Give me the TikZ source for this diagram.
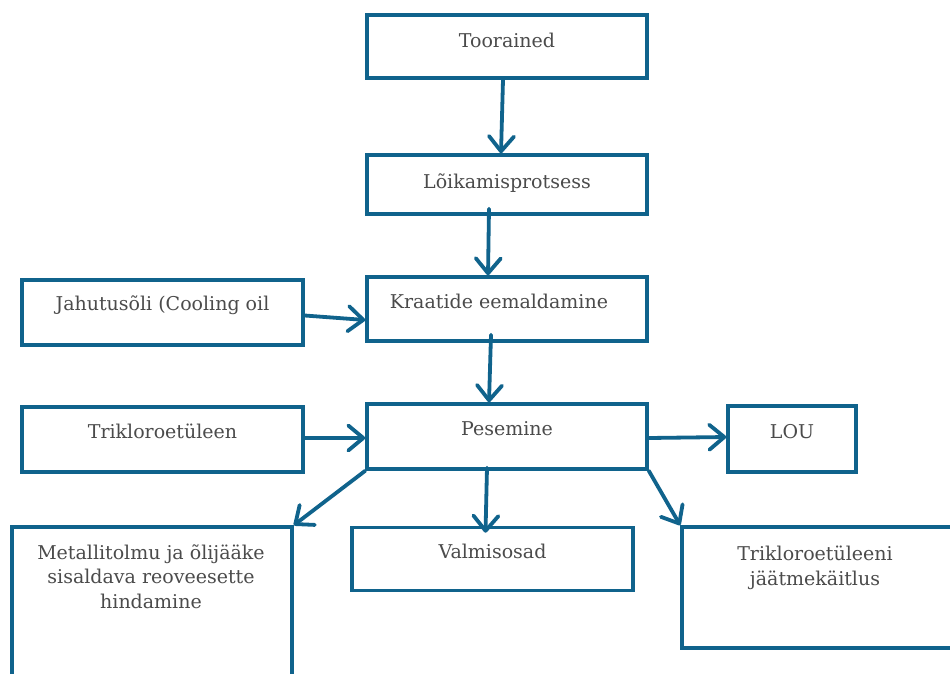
\documentclass[tikz,border=0pt]{standalone}
\usepackage{fontspec}
\setmainfont{DejaVu Serif}
\usetikzlibrary{arrows.meta}
\definecolor{flowblue}{RGB}{16,99,140}
\definecolor{flowgray}{RGB}{75,75,75}

\begin{document}
\begin{tikzpicture}[x=1pt, y=-1pt, every node/.style={font=\fontsize{19}{24.5}\selectfont, text=flowgray}]
\tikzstyle{box}=[rectangle, draw=flowblue, line width=3.6pt, inner sep=0pt]
\tikzstyle{txt}=[anchor=north, align=center, inner sep=0pt, text height=13.9pt]
\tikzstyle{txtm}=[anchor=north, align=center, inner sep=0pt]
\tikzstyle{link}=[draw=flowblue, line width=3.8pt, line cap=round, -{Straight Barb[length=15pt, width=25pt, line cap=round, line join=round]}]
\fill[white] (0,0) rectangle (950,673);
\clip (0,0) rectangle (950,673);
\node[box, minimum width=280pt, minimum height=63pt, label={[txt, yshift=-20pt]north:Toorained}] (toor) at (507,46.5) {};
\node[box, minimum width=280pt, minimum height=59pt, label={[txt, yshift=-21pt]north:Lõikamisprotsess}] (loik) at (507,184.5) {};
\node[box, minimum width=280pt, minimum height=64pt, label={[txt, yshift=-19pt, xshift=-8pt]north:Kraatide eemaldamine}] (kraat) at (507,309) {};
\node[box, minimum width=280pt, minimum height=65pt, label={[txt, yshift=-19pt]north:Pesemine}] (pese) at (507,436.5) {};
\node[box, minimum width=281pt, minimum height=65pt, label={[txt, yshift=-18pt]north:Jahutusõli (Cooling oil}] (jahu) at (162.5,312.5) {};
\node[box, minimum width=281pt, minimum height=65pt, label={[txt, yshift=-19pt]north:Trikloroetüleen}] (trik) at (162.5,439.5) {};
\node[box, minimum width=128pt, minimum height=66pt, label={[txt, yshift=-20pt]north:LOU}] (lou) at (792,439) {};
\node[box, minimum width=280pt, minimum height=180pt, label={[txtm, yshift=-19pt, xshift=-1pt]north:Metallitolmu ja õlijääke\\sisaldava reoveesette\\hindamine}] (metall) at (152,617) {};
\node[box, minimum width=281pt, minimum height=63pt, label={[txt, yshift=-19pt]north:Valmisosad}] (valm) at (492.5,559) {};
\node[box, minimum width=274pt, minimum height=121pt, label={[txtm, yshift=-21pt, xshift=-4pt]north:Trikloroetüleeni\\jäätmekäitlus}] (trikj) at (819,587.5) {};
\draw[link] ([xshift=-4pt]toor.south) -- ([xshift=-6pt]loik.north);
\draw[link] ([xshift=-18pt, yshift=7pt]loik.south) -- ([xshift=-19pt]kraat.north);
\draw[link] ([xshift=-16pt, yshift=8pt]kraat.south) -- ([xshift=-18pt]pese.north);
\draw[link] ([yshift=-3pt]jahu.east) -- ([yshift=-11pt]kraat.west);
\draw[link] ([yshift=1.5pt]trik.east) -- ([yshift=-1.5pt]pese.west);
\draw[link] ([yshift=-1.5pt]pese.east) -- ([yshift=2pt]lou.west);
\draw[link] (pese.south west) -- (metall.north east);
\draw[link] ([xshift=-20pt, yshift=3pt]pese.south) -- ([xshift=-7pt, yshift=-7pt]valm.north);
\draw[link] (pese.south east) -- (trikj.north west);
\end{tikzpicture}
\end{document}
